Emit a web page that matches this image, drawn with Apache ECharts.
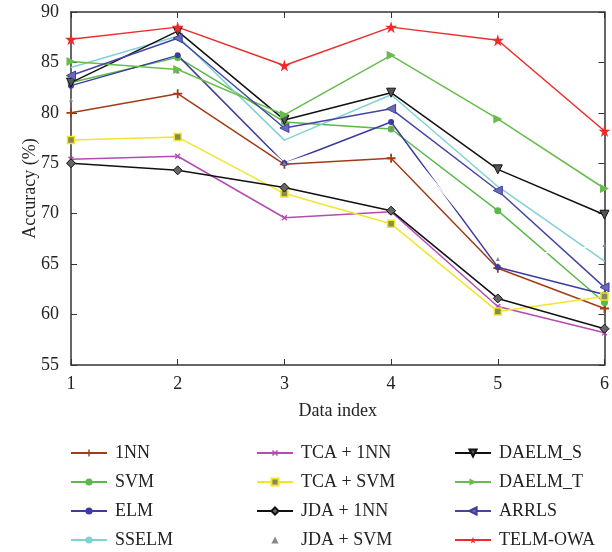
<!DOCTYPE html>
<html>
<head>
<meta charset="utf-8">
<script src="https://cdn.jsdelivr.net/npm/echarts@6/dist/echarts.min.js"></script>
<style>
  html, body { margin: 0; padding: 0; background: #fff; }
  #chart { width: 612px; height: 552px; }
</style>
</head>
<body>
<div id="chart"></div>
<script>
// data index
var dataIndex = [1, 2, 3, 4, 5, 6];
// accuracy (%) per method
var nn1    = [80.0, 81.9, 74.9, 75.5, 64.6, 60.6];
var svm    = [83.0, 85.5, 79.1, 78.4, 70.3, 61.2];
var elm    = [82.7, 85.7, 75.0, 79.1, 64.7, 62.0];
var sselm  = [84.5, 87.6, 77.3, 81.8, 72.7, 65.3];
var tca1nn = [75.4, 75.7, 69.6, 70.2, 60.8, 58.2];
var tcasvm = [77.3, 77.6, 72.0, 69.0, 60.3, 61.8];
var jda1nn = [75.0, 74.3, 72.6, 70.3, 61.6, 58.6];
var jdasvm = [81.3, 84.1, 75.0, 78.4, 65.5, 66.9];
var daelmS = [83.0, 88.1, 79.3, 82.0, 74.4, 69.9];
var daelmT = [85.1, 84.3, 79.8, 85.7, 79.4, 72.5];
var arrls  = [83.7, 87.4, 78.5, 80.4, 72.3, 62.7];
var telm   = [87.3, 88.5, 84.7, 88.5, 87.2, 78.2];

var names = ['1NN', 'SVM', 'ELM', 'SSELM', 'TCA + 1NN', 'TCA + SVM', 'JDA + 1NN', 'JDA + SVM',
             'DAELM_S', 'DAELM_T', 'ARRLS', 'TELM-OWA'];

var FONT = "'Liberation Serif', 'DejaVu Serif', serif";
var plusPath = 'path://M4,0h2v4h4v2h-4v4h-2v-4h-4v-2h4z';
var starPath = 'path://M50,0L61,35L98,35L68,57L79,91L50,70L21,91L32,57L2,35L39,35Z';

function pairs(arr) {
	return arr.map(function(v, i){ return [dataIndex[i], v]; });
}

function mkSeries(name, data, color, symbol, size, opts) {
	var s = {
		name: name,
		type: 'line',
		data: pairs(data),
		symbol: symbol,
		symbolSize: size,
		lineStyle: { color: color, width: 1.5 },
		itemStyle: { color: color },
		emphasis: { disabled: true },
		animation: false
	};
	for (var k in opts) s[k] = opts[k];
	return s;
}

var series = [
	mkSeries(names[0], nn1, '#a23b17', plusPath, 9),
	mkSeries(names[1], svm, '#5cb84a', 'circle', 7),
	mkSeries(names[2], elm, '#3c3c9e', 'circle', 6),
	mkSeries(names[3], sselm, '#80d2d2', 'circle', 1),
	mkSeries(names[4], tca1nn, '#b34cb1', plusPath, 7, { symbolRotate: 45 }),
	mkSeries(names[5], tcasvm, '#f2e52a', 'rect', 7, { itemStyle: { color: '#8a8a4a', borderColor: '#f2e52a', borderWidth: 1.5 } }),
	mkSeries(names[6], jda1nn, '#111111', 'diamond', 9, { itemStyle: { color: '#666666', borderColor: '#111111', borderWidth: 1 } }),
	mkSeries(names[7], jdasvm, '#ffffff', 'triangle', 4, { itemStyle: { color: '#888888' }, lineStyle: { color: '#ffffff', width: 1.5 } }),
	mkSeries(names[8], daelmS, '#111111', 'triangle', 9, { symbolRotate: 180, itemStyle: { color: '#555555', borderColor: '#111111', borderWidth: 1 } }),
	mkSeries(names[9], daelmT, '#66bd4c', 'triangle', 9, { symbolRotate: -90 }),
	mkSeries(names[10], arrls, '#4545a6', 'triangle', 9, { symbolRotate: 90, itemStyle: { color: '#6a6ab8', borderColor: '#3c3c9e', borderWidth: 1 } }),
	mkSeries(names[11], telm, '#ee2b2b', starPath, 12)
];

function legendCol(items, left) {
	return {
		orient: 'vertical',
		left: left,
		top: 444,
		padding: 0,
		itemWidth: 36,
		itemHeight: 9,
		itemGap: 11,
		selectedMode: false,
		data: items,
		textStyle: { fontFamily: FONT, fontSize: 18, color: '#222', lineHeight: 18, padding: [0, 0, 0, 3] }
	};
}

var axisText = { fontFamily: FONT, fontSize: 18, color: '#222' };

var option = {
	backgroundColor: '#fff',
	animation: false,
	grid: { left: 71, right: -1, top: 12, bottom: 187 },
	legend: [
		legendCol(names.slice(0, 4), 70),
		legendCol(names.slice(4, 8), 256),
		legendCol(names.slice(8, 12), 454)
	],
	xAxis: [
		{
			type: 'value', min: 1, max: 6, interval: 1,
			name: 'Data index', nameLocation: 'middle', nameGap: 37,
			nameMoveOverlap: false,
			nameTextStyle: axisText,
			axisLine: { lineStyle: { color: '#333', width: 1.5 } },
			axisTick: { inside: true, length: 6, lineStyle: { color: '#333' } },
			axisLabel: { margin: 10, fontFamily: FONT, fontSize: 18, color: '#222' },
			splitLine: { show: false }
		},
		{
			type: 'value', min: 1, max: 6, interval: 1, position: 'top',
			axisLine: { show: true, lineStyle: { color: '#333', width: 1.5 } },
			axisTick: { inside: true, length: 6, lineStyle: { color: '#333' } },
			axisLabel: { show: false },
			splitLine: { show: false }
		}
	],
	yAxis: [
		{
			type: 'value', min: 55, max: 90, interval: 5,
			name: 'Accuracy (%)', nameLocation: 'middle', nameGap: 32,
			nameMoveOverlap: false,
			nameTextStyle: axisText,
			axisLine: { show: true, lineStyle: { color: '#333', width: 1.5 } },
			axisTick: { show: true, inside: true, length: 6, lineStyle: { color: '#333' } },
			axisLabel: { margin: 12, fontFamily: FONT, fontSize: 18, color: '#222' },
			splitLine: { show: false }
		},
		{
			type: 'value', min: 55, max: 90, interval: 5, position: 'right',
			axisLine: { show: true, lineStyle: { color: '#333', width: 1.5 } },
			axisTick: { show: true, inside: true, length: 6, lineStyle: { color: '#333' } },
			axisLabel: { show: false },
			splitLine: { show: false }
		}
	],
	series: series
};

var myChart = echarts.init(document.getElementById('chart'));
myChart.setOption(option);
</script>
</body>
</html>
